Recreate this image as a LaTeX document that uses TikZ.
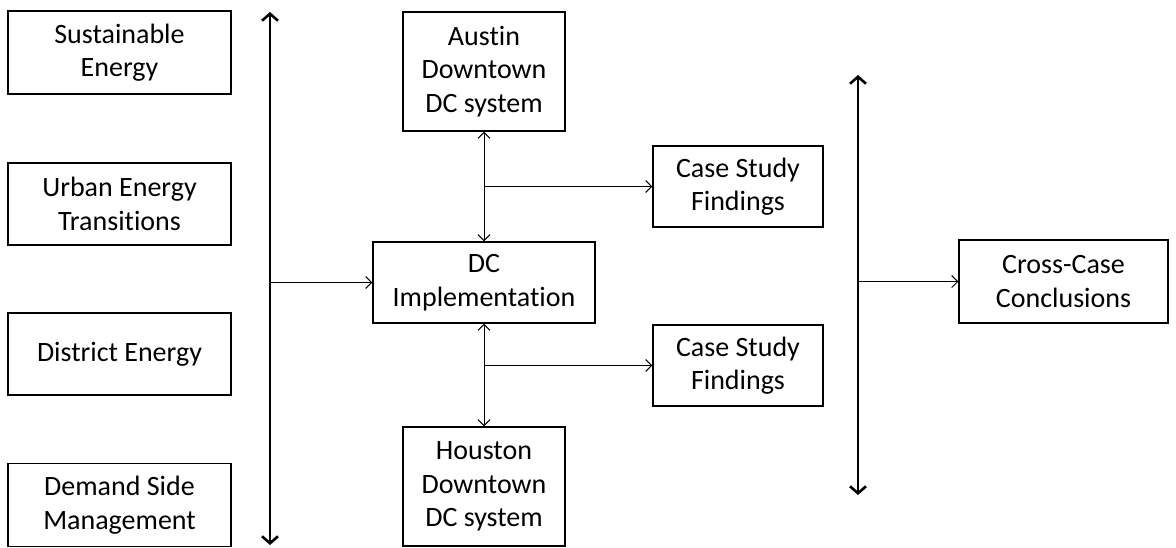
\documentclass[tikz,border=0pt]{standalone}
\usepackage{fontspec}
\setmainfont{Carlito}[Ligatures={NoCommon}]
\usetikzlibrary{arrows.meta}
\begin{document}
\begin{tikzpicture}[x=1pt,y=-1pt,
  box/.style={draw,line width=1.2pt,align=center,inner sep=0pt,
    font=\fontsize{28}{33.5}\selectfont},
  link/.style={line width=1pt,{Straight Barb[length=6pt,width=12pt]}-{Straight Barb[length=6pt,width=12pt]}},
  feed/.style={line width=1pt,-{Straight Barb[length=6pt,width=12pt]}},
  axis/.style={line width=2.6pt,{Straight Barb[length=7pt,width=16pt]}-{Straight Barb[length=7pt,width=16pt]}}]
  \useasboundingbox (0,0) rectangle (1176,547);
  % literature themes
  \node[box,minimum width=223pt,minimum height=83pt] (se) at (119.5,52.5){Sustainable\\Energy};
  \node[box,minimum width=223pt,minimum height=82pt] (uet) at (119.5,204){Urban Energy\\Transitions};
  \node[box,minimum width=223pt,minimum height=82pt] (de) at (119.5,354){District Energy};
  \node[box,minimum width=223pt,minimum height=83pt] (dsm) at (119.5,505){Demand Side\\Management};
  % cases
  \node[box,minimum width=162pt,minimum height=119pt] (austin) at (484,71.5){Austin\\Downtown\\DC system};
  \node[box,minimum width=222pt,minimum height=81pt] (dc) at (484,282.5){DC\\Implementation};
  \node[box,minimum width=162pt,minimum height=119pt] (houston) at (484,486.5){Houston\\Downtown\\DC system};
  \node[box,minimum width=170pt,minimum height=81pt] (csfa) at (738,186.5){Case Study\\Findings};
  \node[box,minimum width=170pt,minimum height=81pt] (csfb) at (738,365.5){Case Study\\Findings};
  \node[box,minimum width=209pt,minimum height=83pt] (ccc) at (1063.5,281.5){Cross-Case\\Conclusions};
  % axes
  \coordinate (lt) at (270,12);
  \coordinate (lb) at (270,545);
  \coordinate (rt) at (858,75);
  \coordinate (rb) at (858,495);
  \draw[axis](lt)--(lb);
  \draw[axis](rt)--(rb);
  % connectors
  \draw[feed](lt|-dc.west)--(dc.west);
  \draw[feed](rt|-ccc.west)--(ccc.west);
  \draw[link](austin.south)--(dc.north);
  \draw[link](dc.south)--(houston.north);
  \draw[feed](austin.south|-csfa.west)--(csfa.west);
  \draw[feed](dc.south|-csfb.west)--(csfb.west);
\end{tikzpicture}
\end{document}
